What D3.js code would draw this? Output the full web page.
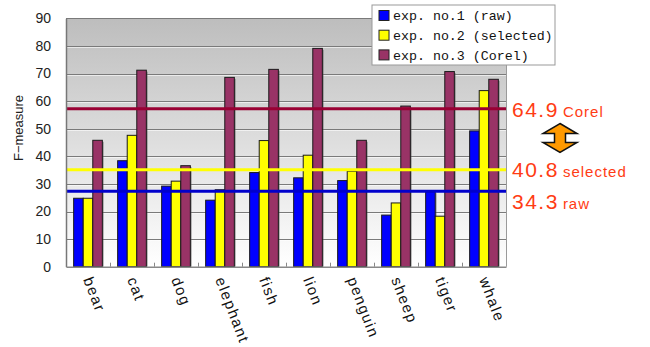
<html>
  <head>
    <title>F-measure by category</title>
    <script type="text/javascript" src="https://d3js.org/d3.v7.min.js"></script>
    <style type="text/css">
      body { margin: 0; background: #fff; }
    </style>
  </head>
  <body>
    <script type="text/javascript">

      // data
      var categories = ["bear", "cat", "dog", "elephant", "fish", "lion", "penguin", "sheep", "tiger", "whale"];
      var seriesNames = ["exp. no.1 (raw)", "exp. no.2 (selected)", "exp. no.3 (Corel)"];
      var seriesColors = ["#0000ff", "#ffff00", "#993366"];
      var raw      = [24.8, 38.4, 29.2, 24.1, 34.1, 32.2, 31.2, 18.7, 27.2, 49.2];
      var selected = [24.8, 47.6, 31.0, 27.9, 45.7, 40.4, 34.6, 23.1, 18.3, 63.8];
      var corel    = [45.8, 71.2, 36.6, 68.6, 71.5, 79.1, 45.8, 58.2, 70.7, 67.9];
      var yTicks = [0, 10, 20, 30, 40, 50, 60, 70, 80, 90];

      // horizontal reference lines + the labels on the right
      var refValues = [57.2, 35.1, 27.3];
      var refColors = ["#990033", "#ffff00", "#0000cc"];
      var refNumbers = ["64.9", "40.8", "34.3"];
      var refWords = ["Corel", "selected", "raw"];

      var w = 650, h = 347;
      var plotLeft = 66, plotRight = 506, plotTop = 18.3, plotBottom = 266.7;
      var sans = "Liberation Sans, Arial, sans-serif";

      var svg = d3.select("body").append("svg")
        .attr("width", w)
        .attr("height", h)
        .style("font-family", sans);

      var defs = svg.append("defs");
      var grad = defs.append("linearGradient")
        .attr("id", "bg").attr("x1", 0).attr("y1", 0).attr("x2", 0).attr("y2", 1);
      grad.append("stop").attr("offset", "0%").attr("stop-color", "#bdbdbd");
      grad.append("stop").attr("offset", "100%").attr("stop-color", "#ffffff");

      var x0 = d3.scaleBand().domain(categories).range([plotLeft, plotRight]);
      var x1 = d3.scaleBand().domain([0, 1, 2]).range([0, x0.bandwidth()]).paddingOuter(0.8);
      var y = d3.scaleLinear().domain([0, 90]).range([plotBottom, plotTop]);

      // plot background
      svg.append("rect")
        .attr("x", plotLeft).attr("y", plotTop)
        .attr("width", plotRight - plotLeft).attr("height", plotBottom - plotTop)
        .attr("fill", "url(#bg)");

      // gridlines
      svg.append("g").selectAll("line")
        .data(yTicks.filter(function(d){ return d > 0; }))
        .enter().append("line")
        .attr("x1", plotLeft).attr("x2", plotRight)
        .attr("y1", function(d){ return Math.round(y(d)) + 0.5; })
        .attr("y2", function(d){ return Math.round(y(d)) + 0.5; })
        .attr("stroke", "#7a7a7a");
      svg.append("g").selectAll("line")
        .data(yTicks.filter(function(d){ return d > 0 && d < 90; }))
        .enter().append("line")
        .attr("x1", plotLeft).attr("x2", plotRight)
        .attr("y1", function(d){ return Math.round(y(d)) + 1.5; })
        .attr("y2", function(d){ return Math.round(y(d)) + 1.5; })
        .attr("stroke", "#ffffff").attr("stroke-opacity", 0.6);

      // right frame edge
      svg.append("line")
        .attr("x1", plotRight + 0.5).attr("x2", plotRight + 0.5)
        .attr("y1", plotTop).attr("y2", plotBottom)
        .attr("stroke", "#9a9a9a");

      // bars
      var seriesData = [raw, selected, corel];
      var groups = svg.append("g").selectAll("g")
        .data(categories)
        .enter().append("g")
        .attr("transform", function(d){ return "translate(" + x0(d) + ",0)"; });

      function barData(d, i) {
        return seriesData.map(function(s, k){ return {k: k, v: s[i]}; });
      }

      groups.selectAll("rect.shadow")
        .data(barData)
        .enter().append("rect")
        .attr("class", "shadow")
        .attr("x", function(d){ return x1(d.k) + 1.5; })
        .attr("y", function(d){ return y(d.v) + 1.5; })
        .attr("width", x1.bandwidth())
        .attr("height", function(d){ return plotBottom - y(d.v) - 1.5; })
        .attr("fill", "#555").attr("fill-opacity", 0.45);

      groups.selectAll("rect.bar")
        .data(barData)
        .enter().append("rect")
        .attr("class", "bar")
        .attr("x", function(d){ return x1(d.k); })
        .attr("y", function(d){ return y(d.v); })
        .attr("width", x1.bandwidth())
        .attr("height", function(d){ return plotBottom - y(d.v); })
        .attr("fill", function(d){ return seriesColors[d.k]; })
        .attr("stroke", "#1a1a1a").attr("stroke-width", 1);

      // reference lines
      svg.append("g").selectAll("line")
        .data(refValues)
        .enter().append("line")
        .attr("x1", plotLeft).attr("x2", plotRight)
        .attr("y1", function(d){ return y(d); })
        .attr("y2", function(d){ return y(d); })
        .attr("stroke", function(d, i){ return refColors[i]; })
        .attr("stroke-width", 3);

      // y axis
      var yAxis = svg.append("g")
        .attr("transform", "translate(" + plotLeft + ",0)")
        .call(d3.axisLeft(y).tickValues(yTicks).tickSize(0).tickPadding(15));
      yAxis.select(".domain").attr("stroke", "#777").attr("stroke-width", 1.5);
      yAxis.selectAll("text")
        .style("font-family", sans)
        .style("font-size", "14px")
        .attr("fill", "#222");

      // x axis
      var xAxis = svg.append("g")
        .attr("transform", "translate(0," + plotBottom + ")")
        .call(d3.axisBottom(x0).tickSize(0).tickFormat(""));
      xAxis.select(".domain").attr("stroke", "#888").attr("stroke-width", 1.5);

      // small inward ticks at category boundaries
      svg.append("g").selectAll("line")
        .data(categories.slice(1))
        .enter().append("line")
        .attr("x1", function(d){ return x0(d) + 0.5; })
        .attr("x2", function(d){ return x0(d) + 0.5; })
        .attr("y1", plotBottom - 4).attr("y2", plotBottom)
        .attr("stroke", "#888");

      // rotated category labels
      svg.append("g").selectAll("text")
        .data(categories)
        .enter().append("text")
        .attr("transform", function(d){
          return "translate(" + (x0(d) + x0.bandwidth() / 2) + "," + (plotBottom + 11) + ") rotate(69)";
        })
        .attr("dy", "0.35em")
        .style("font-size", "15px")
        .attr("letter-spacing", "1.5px")
        .attr("fill", "#111")
        .text(function(d){ return d; });

      // y title
      svg.append("text")
        .attr("transform", "translate(23,128) rotate(-90)")
        .attr("text-anchor", "middle")
        .style("font-size", "13px")
        .attr("fill", "#222")
        .text("F\u2212measure");

      // legend
      var lg = svg.append("g").attr("transform", "translate(372,5)");
      lg.append("rect")
        .attr("width", 183).attr("height", 60)
        .attr("fill", "#fff").attr("stroke", "#999");
      var items = lg.selectAll("g")
        .data(seriesNames)
        .enter().append("g")
        .attr("transform", function(d, i){ return "translate(7," + (10.5 + i * 19.7) + ")"; });
      items.append("rect")
        .attr("x", 0).attr("y", -5).attr("width", 10).attr("height", 10)
        .attr("fill", function(d, i){ return seriesColors[i]; })
        .attr("stroke", "#222");
      items.append("text")
        .attr("x", 14).attr("dy", "0.35em")
        .style("font-family", "Liberation Mono, DejaVu Sans Mono, monospace")
        .style("font-size", "13.3px")
        .attr("fill", "#111")
        .text(function(d){ return d; });

      // annotations to the right
      var annY = [117, 176.5, 209];
      var ann = svg.append("g").selectAll("text")
        .data(refNumbers)
        .enter().append("text")
        .attr("x", 512)
        .attr("y", function(d, i){ return annY[i]; })
        .attr("fill", "#ff3c14");
      ann.append("tspan")
        .style("font-size", "21px").attr("letter-spacing", "1.5px")
        .text(function(d){ return d; });
      ann.append("tspan")
        .attr("dx", 4)
        .style("font-size", "15px").attr("letter-spacing", "1px")
        .text(function(d, i){ return refWords[i]; });

      // orange double arrow
      var ax = 560, ay1 = 123.5, ay2 = 152.5;
      var arrow = d3.path();
      arrow.moveTo(ax, ay1);
      arrow.lineTo(ax + 17, ay1 + 10);
      arrow.lineTo(ax + 5.5, ay1 + 10);
      arrow.lineTo(ax + 5.5, ay2 - 10);
      arrow.lineTo(ax + 17, ay2 - 10);
      arrow.lineTo(ax, ay2);
      arrow.lineTo(ax - 17, ay2 - 10);
      arrow.lineTo(ax - 5.5, ay2 - 10);
      arrow.lineTo(ax - 5.5, ay1 + 10);
      arrow.lineTo(ax - 17, ay1 + 10);
      arrow.closePath();
      svg.append("path")
        .attr("d", arrow.toString())
        .attr("fill", "#ff9900")
        .attr("stroke", "#111")
        .attr("stroke-width", 1.5)
        .attr("stroke-linejoin", "miter");

    </script>
  </body>
</html>
